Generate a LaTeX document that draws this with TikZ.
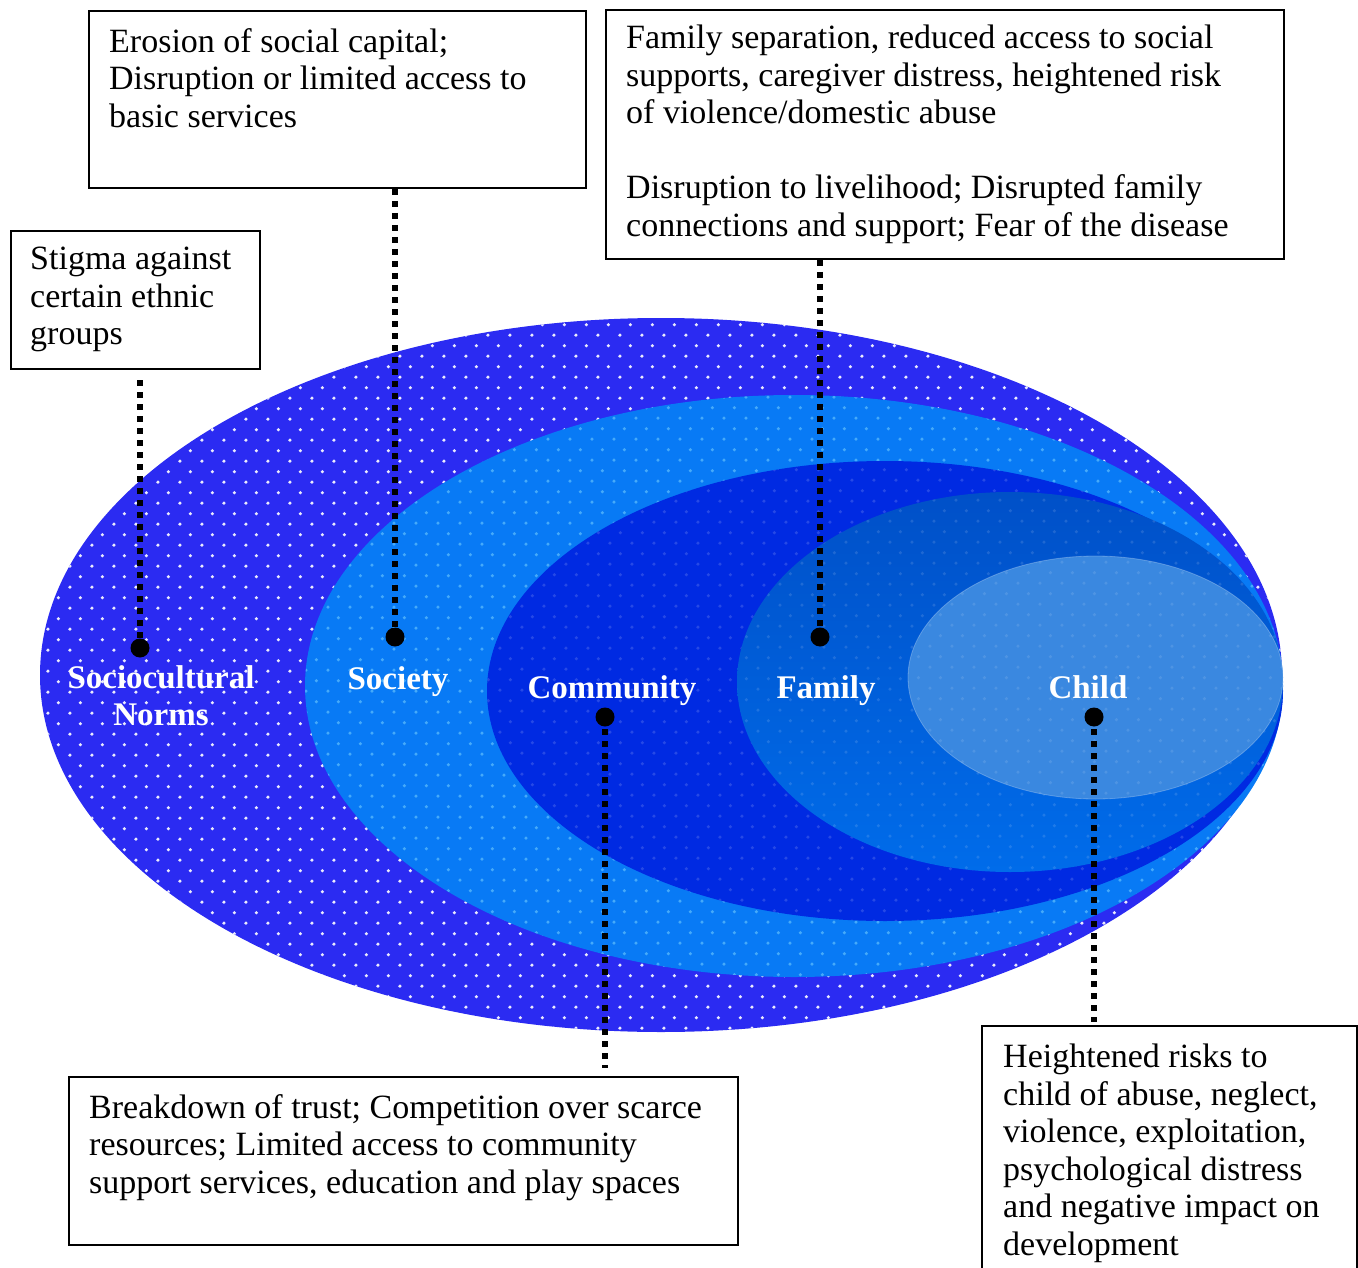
\documentclass[tikz,border=0pt]{standalone}
\usepackage{fontspec}
\setmainfont{Liberation Serif}
\usetikzlibrary{patterns}
\pgfdeclarepatternformonly{sdots}{\pgfqpoint{0pt}{0pt}}{\pgfqpoint{21.5pt}{21.4pt}}{\pgfqpoint{21.5pt}{21.4pt}}{%
  \pgfpathcircle{\pgfqpoint{5pt}{5pt}}{1.8pt}%
  \pgfpathcircle{\pgfqpoint{15.75pt}{15.7pt}}{1.8pt}%
  \pgfusepath{fill}}
\definecolor{outercol}{RGB}{43,43,242}
\definecolor{societycol}{RGB}{8,122,245}
\definecolor{communitycol}{RGB}{0,42,226}
\definecolor{familytop}{RGB}{0,80,200}
\definecolor{familybot}{RGB}{0,108,234}
\definecolor{childcol}{RGB}{58,136,224}
\definecolor{cyandot}{RGB}{120,210,255}
\tikzset{
  frame/.style={draw=black, line width=2pt, fill=white, inner sep=0pt, anchor=north west},
  btext/.style={align=left, inner sep=0pt, anchor=north west, font=\fontsize{34}{37.5}\selectfont},
  lab/.style={align=center, inner sep=0pt, anchor=north, text=white, font=\fontsize{33}{37.5}\selectfont\bfseries},
  pin/.style={circle, fill=black, inner sep=0pt, minimum size=19pt},
  conn/.style={line width=6pt, dash pattern=on 6pt off 6pt, black},
  dotsfill/.style={pattern=sdots, pattern color=white, fill opacity=#1},
  cdotsfill/.style={pattern=sdots, pattern color=cyandot, fill opacity=#1}
}
\begin{document}
\begin{tikzpicture}[x=1pt, y=-1pt]
\useasboundingbox (0,0) rectangle (1358,1268);
% ellipses
\fill[outercol] (661,675) ellipse [x radius=621, y radius=357];
\fill[dotsfill=0.9] (661,675) ellipse [x radius=621, y radius=357];
\fill[societycol] (794,686) ellipse [x radius=489, y radius=291];
\fill[cdotsfill=0.55] (794,686) ellipse [x radius=489, y radius=291];
\fill[communitycol] (885,691) ellipse [x radius=398, y radius=230];
\fill[dotsfill=0.15] (885,691) ellipse [x radius=398, y radius=230];
\shade[top color=familytop, bottom color=familybot] (1010,682) ellipse [x radius=273, y radius=190];
\fill[dotsfill=0.12] (1010,682) ellipse [x radius=273, y radius=190];
\fill[childcol] (1095.5,677.5) ellipse [x radius=187.5, y radius=121.5];
\fill[dotsfill=0.1] (1095.5,677.5) ellipse [x radius=187.5, y radius=121.5];
\draw[white, opacity=0.25, line width=0.8pt] (1095.5,677.5) ellipse [x radius=187.5, y radius=121.5];

% labels
\node[lab] (lsoc) at (161,665) {Sociocultural\\Norms};
\node[lab] (lsociety) at (398,666) {Society};
\node[lab] (lcomm) at (612,675) {Community};
\node[lab] (lfam) at (826,675) {Family};
\node[lab] (lchild) at (1088,675) {Child};

% boxes
\node[frame, minimum width=497pt, minimum height=177pt] (b1) at (88,10) {};
\node[btext] (t1) at (109,28) {Erosion of social capital;\\Disruption or limited access to\\basic services};
\node[frame, minimum width=678pt, minimum height=249pt] (b2) at (605,9) {};
\node[btext] (t2) at (626,25) {Family separation, reduced access to social\\supports, caregiver distress, heightened risk\\of violence/domestic abuse\\[37.5pt]Disruption to livelihood; Disrupted family\\connections and support; Fear of the disease};
\node[frame, minimum width=249pt, minimum height=138pt] (b3) at (10,230) {};
\node[btext] (t3) at (30,247) {Stigma against\\certain ethnic\\groups};
\node[frame, minimum width=669pt, minimum height=168pt] (b4) at (68,1076) {};
\node[btext] (t4) at (89,1094) {Breakdown of trust; Competition over scarce\\resources; Limited access to community\\support services, education and play spaces};
\node[frame, minimum width=375pt, minimum height=270pt] (b5) at (981,1025) {};
\node[btext] (t5) at (1003,1044) {Heightened risks to\\child of abuse, neglect,\\violence, exploitation,\\psychological distress\\and negative impact on\\development};

% pins
\node[pin] (p1) at (140,648) {};
\node[pin] (p2) at (395,637) {};
\node[pin] (p3) at (820,637) {};
\node[pin] (p4) at (605,717) {};
\node[pin] (p5) at (1094,717) {};

% connectors
\coordinate (c1) at (140,380);
\coordinate (c4) at (605,1068);
\coordinate (c5) at (1094,1022);
\draw[conn] (c1) -- (p1.center);
\draw[conn] (p2 |- b1.south) -- (p2.center);
\draw[conn] (p3 |- b2.south) -- (p3.center);
\draw[conn] (p4.center) -- (c4);
\draw[conn] (p5.center) -- (c5);
\end{tikzpicture}
\end{document}
